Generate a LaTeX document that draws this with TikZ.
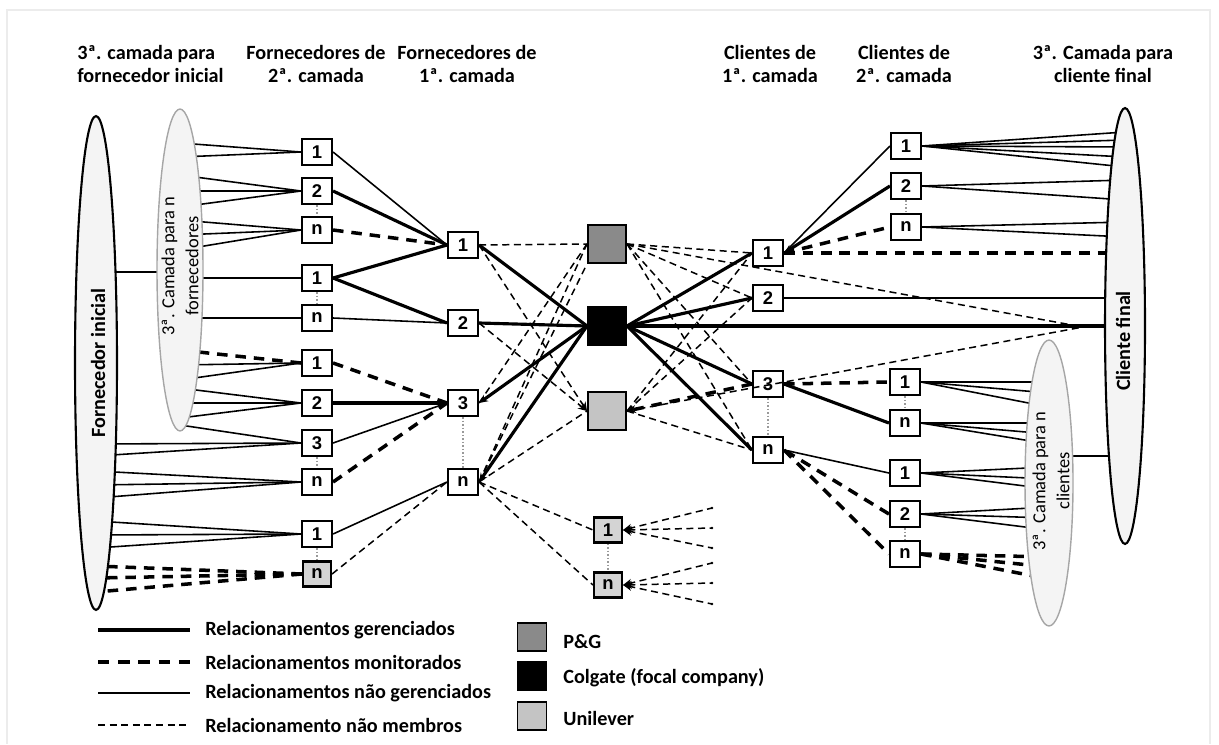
\documentclass[tikz,border=0pt]{standalone}
\usepackage{fontspec}
\setmainfont{Carlito}
\newfontfamily\numfont{Liberation Sans}
\usetikzlibrary{arrows.meta,shapes.geometric}

\definecolor{pgfill}{HTML}{8A8A8A}
\definecolor{unfill}{HTML}{C4C4C4}
\definecolor{grbox}{HTML}{D4D4D4}
\definecolor{elfill}{HTML}{F4F4F4}

\pgfdeclarelayer{bg}
\pgfsetlayers{bg,main}

% fan of lines from a box side to several heights inside an ellipse
\newcommand\fanL[4]{\foreach \yy in {#4}{\coordinate (fanend) at (#3.center |- 0,\yy);\draw[#1] (#2.west) -- (fanend);}}
\newcommand\fanR[4]{\foreach \yy in {#4}{\coordinate (fanend) at (#3.center |- 0,\yy);\draw[#1] (#2.east) -- (fanend);}}

\begin{document}
\begin{tikzpicture}[x=0.02cm,y=-0.02cm,
  hdr/.style={font=\fontsize{11.5}{13.6}\selectfont\bfseries, align=center, inner sep=0},
  lgd/.style={font=\fontsize{11.5}{13}\selectfont\bfseries, anchor=west, inner sep=0},
  eltext/.style={font=\fontsize{10.5}{13.6}\selectfont, align=center, rotate=90, inner sep=0},
  box/.style={draw, line width=1.2pt, fill=white, minimum width=0.6cm, minimum height=0.52cm,
    inner sep=0, font=\numfont\bfseries\fontsize{10.5}{11}\selectfont},
  sbox/.style={box, fill=grbox, minimum width=0.56cm, minimum height=0.5cm},
  cbox/.style={draw, line width=1.2pt, minimum size=0.76cm, inner sep=0},
  lbox/.style={draw, line width=1.1pt, minimum width=0.58cm, minimum height=0.56cm, inner sep=0},
  mg/.style={line width=1.8pt},
  mo/.style={line width=2pt, dash pattern=on 6pt off 4.5pt},
  um/.style={line width=0.9pt},
  nm/.style={line width=0.85pt, dash pattern=on 4pt off 2.6pt},
  vl/.style={line width=0.7pt, gray!80, dash pattern=on 1pt off 1pt},
  arr/.style={arrows={-Stealth[length=5pt,width=4.5pt]}},
  rarr/.style={arrows={Stealth[length=5pt,width=4.5pt]-}},
]
\useasboundingbox (0,0) rectangle (1219,744);
\draw[gray!15, line width=1pt] (7,744) -- (7,10) -- (1210,10) -- (1210,744);

% column headings
\node[hdr, align=left, anchor=west] (h1) at (77,64) {3ª. camada para\\fornecedor inicial};
\node[hdr] (h2) at (316,64) {Fornecedores de\\2ª. camada};
\node[hdr] (h3) at (467,64) {Fornecedores de\\1ª. camada};
\node[hdr] (h4) at (770,64) {Clientes de\\1ª. camada};
\node[hdr] (h5) at (904,64) {Clientes de\\2ª. camada};
\node[hdr] (h6) at (1103,64) {3ª. Camada para\\cliente final};

% ellipses
\node[ellipse, draw, line width=1.2pt, fill=elfill, minimum width=0.84cm, minimum height=9.88cm, inner sep=0] (fi) at (96,363) {};
\node[eltext, font=\fontsize{11.5}{13}\selectfont\bfseries] (fit) at (98,363) {Fornecedor inicial};
\node[ellipse, draw=gray!70, line width=0.8pt, fill=elfill, minimum width=0.92cm, minimum height=6.44cm, inner sep=0] (e2) at (180,270) {};
\node[eltext] (e2t) at (180,266) {3ª. Camada para n\\fornecedores};
\node[ellipse, draw, line width=1.2pt, fill=elfill, minimum width=0.8cm, minimum height=8.72cm, inner sep=0] (ce) at (1125,326) {};
\node[eltext, font=\fontsize{11.5}{13}\selectfont\bfseries] (cet) at (1123,341) {Cliente final};
\node[ellipse, draw=gray!70, line width=0.8pt, fill=elfill, minimum width=0.96cm, minimum height=5.72cm, inner sep=0] (e3) at (1049,483) {};
\node[eltext] (e3t) at (1051,481) {3ª. Camada para n\\clientes};

% second-tier suppliers
\node[box] (s21) at (317,152) {1};
\node[box] (s22) at (317,191) {2};
\node[box] (s2n) at (317,230) {n};
\node[box] (s31) at (317,278) {1};
\node[box] (s3n) at (317,318) {n};
\node[box] (s41) at (317,363) {1};
\node[box] (s42) at (317,403) {2};
\node[box] (s43) at (317,443) {3};
\node[box] (s4n) at (317,482) {n};
\node[box] (s51) at (317,534) {1};
\node[sbox] (s5n) at (317,574) {n};

% first-tier suppliers
\node[box] (f1) at (463,245) {1};
\node[box] (f2) at (463,323) {2};
\node[box] (f3) at (463,403) {3};
\node[box] (fn) at (463,482) {n};

% companies
\node[cbox, fill=pgfill] (pg) at (607,244) {};
\node[cbox, fill=black] (co) at (607,326) {};
\node[cbox, fill=unfill] (un) at (607,411) {};
\node[sbox] (b1) at (608,530) {1};
\node[sbox] (bn) at (608,585) {n};

% first-tier customers
\node[box] (c1) at (768,253) {1};
\node[box] (c2) at (768,298) {2};
\node[box] (c3) at (768,384) {3};
\node[box] (cn) at (768,450) {n};

% second-tier customers
\node[box] (d1) at (906,146) {1};
\node[box] (d2) at (906,186) {2};
\node[box] (dn) at (906,227) {n};
\node[box] (e1) at (905,382) {1};
\node[box] (en) at (905,423) {n};
\node[box] (g1) at (905,473) {1};
\node[box] (g2) at (905,514) {2};
\node[box] (gn) at (905,554) {n};

\coordinate (cfpt) at (1083,327);

\begin{pgfonlayer}{bg}
  % links between the outer ellipses
  \draw[um] (fi.center |- 0,272) -- (e2.center |- 0,272);
  \draw[um] (e3.center |- 0,456) -- (ce.center |- 0,456);

  % third tier to second-tier suppliers
  \fanL{um}{s21}{e2}{143,157}
  \fanL{um}{s22}{e2}{175,191,207}
  \fanL{um}{s2n}{e2}{220,235,250}
  \fanL{um}{s31}{e2}{278}
  \fanL{um}{s3n}{e2}{318}
  \fanL{mo}{s41}{e2}{350}
  \fanL{um}{s41}{e2}{365,380}
  \fanL{um}{s42}{e2}{388,403,418}
  \fanL{um}{s43}{e2}{425}
  \fanL{um}{s43}{fi}{444,456}
  \fanL{um}{s4n}{fi}{471,485,498}
  \fanL{um}{s51}{fi}{521,535,548}
  \fanL{mo}{s5n}{fi}{566,578,592}

  % second tier to first tier
  \draw[um] (s21.east) -- (f1.west);
  \draw[mg] (s22.east) -- (f1.west);
  \draw[mo] (s2n.east) -- (f1.west);
  \draw[mg] (s31.east) -- (f1.west);
  \draw[mg] (s31.east) -- (f2.west);
  \draw[um] (s3n.east) -- (f2.west);
  \draw[mo] (s41.east) -- (f3.west);
  \draw[mg] (s42.east) -- (f3.west);
  \draw[um] (s43.east) -- (f3.west);
  \draw[mo] (s4n.east) -- (f3.west);
  \draw[um] (s51.east) -- (fn.west);
  \draw[nm] (s5n.east) -- (fn.west);

  % first-tier suppliers to the companies
  \draw[nm] (f1.east) -- (pg.west);
  \draw[mg] (f1.east) -- (co.west);
  \draw[nm,arr] (f1.east) -- (un.west);
  \draw[mg] (f2.east) -- (co.west);
  \draw[nm,arr] (f2.east) -- (un.west);
  \draw[nm] (f3.east) -- (pg.west);
  \draw[mg,arr] (co.west) -- (f3.east);
  \draw[nm] (fn.east) -- (pg.west);
  \draw[nm] (fn.east) -- (pg.south west);
  \draw[mg,arr] (co.west) -- (fn.east);
  \draw[nm] (fn.east) -- (un.west);
  \draw[nm] (fn.east) -- (b1.west);
  \draw[nm] (fn.east) -- (bn.west);

  % companies to first-tier customers
  \draw[nm] (pg.east) -- (c1.west);
  \draw[nm] (pg.east) -- (cfpt);
  \draw[nm] (pg.east) -- (c2.west);
  \draw[nm] (pg.east) -- (c3.west);
  \draw[nm] (pg.east) -- (cn.west);
  \draw[mg] (co.east) -- (c1.west);
  \draw[mg] (co.east) -- (c2.west);
  \draw[mg] (co.east) -- (ce.center |- co);
  \draw[mg] (co.east) -- (c3.west);
  \draw[mg] (co.east) -- (cn.west);
  \draw[nm] (un.east) -- (c1.west);
  \draw[nm] (un.east) -- (c2.west);
  \draw[mo,arr] (c3.west) -- (un.east);
  \draw[nm] (un.east) -- (cn.west);

  % first-tier to second-tier customers
  \draw[um] (c1.east) -- (d1.west);
  \draw[mg,arr] (d2.west) -- (c1.east);
  \draw[mo] (c1.east) -- (dn.west);
  \draw[mo] (c1.east) -- (ce.center |- c1);
  \draw[um] (c2.east) -- (ce.center |- c2);
  \draw[mo] (c3.east) -- (e1.west);
  \draw[mg] (c3.east) -- (en.west);
  \draw[um] (cn.east) -- (g1.west);
  \draw[mo,arr] (g2.west) -- (cn.east);
  \draw[mo] (cn.east) -- (gn.west);

  % second-tier customers to the third tier
  \fanR{um}{d1}{ce}{132,140,147,157,167}
  \fanR{um}{d2}{ce}{180,200}
  \fanR{um}{dn}{ce}{222,237}
  \fanR{um}{e1}{e3}{382,393,407}
  \fanR{um}{en}{e3}{423,434,444}
  \fanR{um}{g1}{e3}{467,479,489}
  \fanR{um}{g2}{e3}{507,518,530}
  \fanR{mo}{gn}{e3}{557,567,579}

  % open fans of the lower companies
  \foreach \yy in {508,528,548}{\coordinate (fe) at (712,\yy);\draw[nm,rarr] (b1.east) -- (fe);\fill (fe) circle (1.3);}
  \foreach \yy in {563,583,604}{\coordinate (fe) at (712,\yy);\draw[nm,rarr] (bn.east) -- (fe);\fill (fe) circle (1.3);}

  % dotted links inside each group
  \draw[vl] (s22) -- (s2n);
  \draw[vl] (s31) -- (s3n);
  \draw[vl] (s43) -- (s4n);
  \draw[vl] (s51) -- (s5n);
  \draw[vl] (f3) -- (fn);
  \draw[vl] (b1) -- (bn);
  \draw[vl] (c3) -- (cn);
  \draw[vl] (d2) -- (dn);
  \draw[vl] (e1) -- (en);
  \draw[vl] (g2) -- (gn);
\end{pgfonlayer}

% dashed line crossing customer box 3
\draw[nm] (un.east) -- (cfpt);

% legend
\draw[line width=2.2pt] (98,630) -- (190,630);
\draw[line width=2.2pt, dash pattern=on 6.5pt off 5pt] (98,662) -- (190,662);
\draw[line width=1pt] (98,693) -- (190,693);
\draw[line width=1pt, dash pattern=on 4pt off 2.6pt] (98,725) -- (190,725);
\node[lgd] (l1) at (205,630) {Relacionamentos gerenciados};
\node[lgd] (l2) at (205,662) {Relacionamentos monitorados};
\node[lgd] (l3) at (205,693) {Relacionamentos não gerenciados};
\node[lgd] (l4) at (205,725) {Relacionamento não membros};
\node[lbox, fill=pgfill] (k1) at (532,637) {};
\node[lbox, fill=black] (k2) at (532,676) {};
\node[lbox, fill=unfill] (k3) at (532,716) {};
\node[lgd] (t1) at (563,642) {P\&G};
\node[lgd] (t2) at (563,678) {Colgate (focal company)};
\node[lgd] (t3) at (563,718) {Unilever};
\end{tikzpicture}
\end{document}
